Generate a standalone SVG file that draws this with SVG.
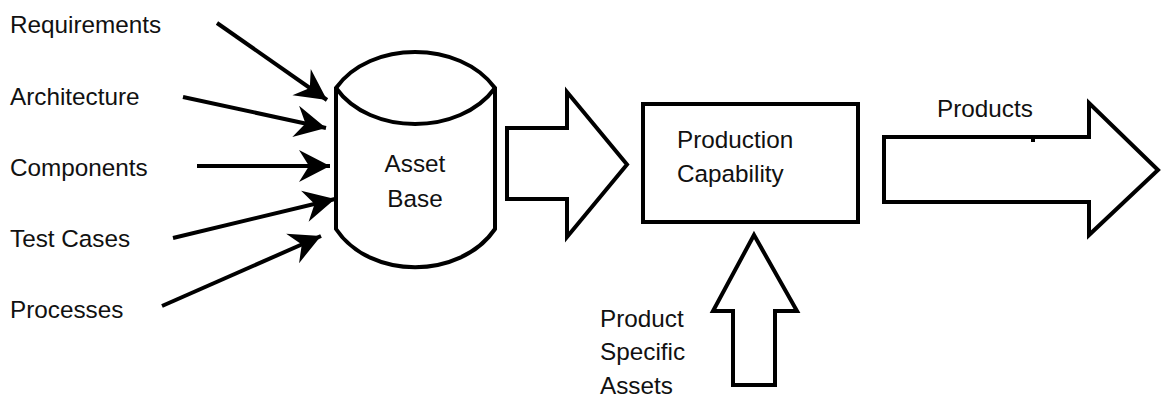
<svg xmlns="http://www.w3.org/2000/svg" width="1163" height="396" viewBox="0 0 1163 396">
  <style>
    text { font-family: "Liberation Sans", Arial, sans-serif; font-size: 24.3px; fill: #111; }
    .shape { fill: #fff; stroke: #000; stroke-width: 4; stroke-linejoin: miter; }
    .line { fill: none; stroke: #000; stroke-width: 4; }
  </style>
  <defs>
    <marker id="head" markerUnits="userSpaceOnUse" markerWidth="36" markerHeight="36" viewBox="-34 -18 36 36" refX="0" refY="0" orient="auto">
      <path d="M0,0 L-31,-16 L-21,0 L-31,16 Z" fill="#000"/>
    </marker>
  </defs>
  <rect width="1163" height="396" fill="#fff"/>

  <!-- input labels -->
  <g id="labels">
    <text x="10" y="33">Requirements</text>
    <text x="10" y="105">Architecture</text>
    <text x="10" y="176">Components</text>
    <text x="10" y="247">Test Cases</text>
    <text x="10" y="318">Processes</text>
  </g>

  <!-- inputs feeding the asset base -->
  <g id="connectors">
    <line class="line" x1="217" y1="23" x2="327" y2="100" marker-end="url(#head)"/>
    <line class="line" x1="183" y1="97" x2="326" y2="128" marker-end="url(#head)"/>
    <line class="line" x1="197" y1="166" x2="330" y2="166" marker-end="url(#head)"/>
    <line class="line" x1="173" y1="238" x2="335" y2="199" marker-end="url(#head)"/>
    <line class="line" x1="162" y1="306" x2="321" y2="236" marker-end="url(#head)"/>
  </g>

  <!-- asset base cylinder -->
  <g id="asset-base">
    <path class="shape" d="M336,88 C370,40 460,40 495,88 L495,229 C460,280 370,280 336,229 Z"/>
    <path class="line" d="M336,88 C370,136 460,136 495,88"/>
    <text x="415" y="172" text-anchor="middle">Asset</text>
    <text x="415" y="207" text-anchor="middle">Base</text>
  </g>

  <!-- flow into production -->
  <g id="flow-arrow">
    <path class="shape" d="M507,128 L567,128 L567,92 L627,164.5 L567,237 L567,199 L507,199 Z"/>
  </g>

  <!-- production capability -->
  <g id="production-capability">
    <rect class="shape" x="643" y="104" width="215" height="118"/>
    <text x="677" y="148">Production</text>
    <text x="677" y="182">Capability</text>
  </g>

  <!-- product specific assets -->
  <g id="product-specific-assets">
    <path class="shape" d="M754,235 L797,311 L775,311 L775,385 L733,385 L733,311 L713,311 Z"/>
    <text x="600" y="327">Product</text>
    <text x="600" y="360">Specific</text>
    <text x="600" y="394">Assets</text>
  </g>

  <!-- products output -->
  <g id="products">
    <path class="shape" d="M884,137 L1089,137 L1089,103 L1158,170 L1089,235 L1089,202 L884,202 Z"/>
    <path class="line" d="M1033,136 L1033,142" stroke-width="3"/>
    <text x="937" y="117">Products</text>
  </g>
</svg>
